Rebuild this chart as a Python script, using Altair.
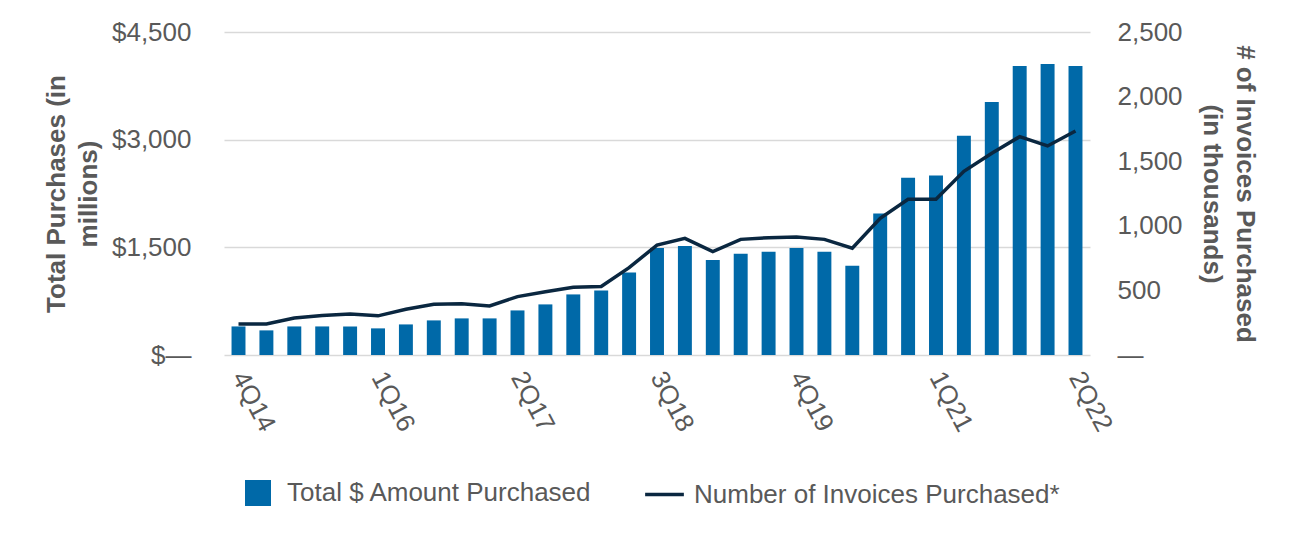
import altair as alt
import pandas as pd

quarters = ["4Q14",
            "1Q15", "2Q15", "3Q15", "4Q15",
            "1Q16", "2Q16", "3Q16", "4Q16",
            "1Q17", "2Q17", "3Q17", "4Q17",
            "1Q18", "2Q18", "3Q18", "4Q18",
            "1Q19", "2Q19", "3Q19", "4Q19",
            "1Q20", "2Q20", "3Q20", "4Q20",
            "1Q21", "2Q21", "3Q21", "4Q21",
            "1Q22", "2Q22"]
amount = [398, 343, 398, 398, 398, 371, 426, 482, 510, 510, 621, 705, 844, 900, 1150,
          1490, 1520, 1325, 1410, 1440, 1490, 1440, 1245, 1970, 2470, 2500, 3055,
          3525, 4025, 4055, 4025]
invoices = [240, 240, 287, 305, 318, 303, 354, 393, 396, 380, 452, 489, 524, 530, 676,
            851, 903, 800, 895, 908, 913, 895, 826, 1058, 1205, 1205, 1422,
            1561, 1690, 1618, 1734]
shown_labels = ["4Q14", "1Q16", "2Q17", "3Q18", "4Q19", "1Q21", "2Q22"]

df = pd.DataFrame({"q": quarters, "amount": amount, "invoices": invoices,
                   "s1": "Total $ Amount Purchased",
                   "s2": "Number of Invoices Purchased*"})

FONT = "Liberation Sans"
TXT = "#595959"

x = alt.X("q:N", sort=quarters,
          scale=alt.Scale(paddingInner=0.5, paddingOuter=0.27),
          axis=alt.Axis(values=shown_labels, title=None, labelAngle=62,
                        labelAlign="left", labelBaseline="middle", labelPadding=18,
                        domain=False, ticks=False, labelFontSize=26,
                        labelColor=TXT, labelFont=FONT))

bars = alt.Chart(df).mark_bar(color="#0069A8").encode(
    x=x,
    y=alt.Y("amount:Q", scale=alt.Scale(domain=[0, 4500], nice=False),
            axis=alt.Axis(values=[0, 1500, 3000, 4500],
                          labelExpr="datum.value == 0 ? '$—' : '$' + format(datum.value, ',')",
                          title=["Total Purchases (in", "millions)"],
                          titleFontSize=26, titleFontWeight="bold", titleColor=TXT,
                          titleFont=FONT, titleLineHeight=32, titlePadding=10,
                          labelFontSize=26, labelColor=TXT, labelFont=FONT,
                          labelPadding=33, domain=False, ticks=False,
                          grid=True, gridColor="#d9d9d9", gridWidth=1.5)),
    color=alt.Color("s1:N", scale=alt.Scale(range=["#0069A8"]),
                    legend=alt.Legend(title=None, orient="none", legendX=21, legendY=448,
                                      symbolType="square", symbolSize=676,
                                      labelFontSize=26, labelColor=TXT, labelFont=FONT,
                                      labelOffset=16, labelLimit=0, symbolStrokeWidth=0))
)

line = alt.Chart(df).mark_line(color="#0A2740", strokeWidth=3.5).encode(
    x=x,
    y=alt.Y("invoices:Q", scale=alt.Scale(domain=[0, 2500], nice=False),
            axis=alt.Axis(orient="right", values=[0, 500, 1000, 1500, 2000, 2500],
                          labelExpr="datum.value == 0 ? '—' : format(datum.value, ',')",
                          title=["# of Invoices Purchased", "(in thousands)"],
                          titleAngle=90, titleFontSize=26, titleFontWeight="bold",
                          titleColor=TXT, titleFont=FONT, titleLineHeight=33,
                          titlePadding=16,
                          labelFontSize=26, labelColor=TXT, labelFont=FONT,
                          labelPadding=27, domain=False, ticks=False, grid=False)),
    stroke=alt.Stroke("s2:N", scale=alt.Scale(range=["#0A2740"]),
                      legend=alt.Legend(title=None, orient="none", legendX=419, legendY=441,
                                        symbolType="stroke", symbolSize=1500,
                                        symbolStrokeWidth=3.5,
                                        labelFontSize=26, labelColor=TXT, labelFont=FONT,
                                        labelOffset=8, labelLimit=0))
)

chart = alt.layer(bars, line).resolve_scale(
    y="independent", color="independent", stroke="independent"
).properties(
    width=866, height=323,
    autosize=alt.AutoSizeParams(type="none"),
    padding={"left": 216, "top": 24, "right": 200, "bottom": 180},
).configure(font=FONT).configure_view(stroke=None)

chart.save("out.html", embed_options={"renderer": "svg", "actions": False})
